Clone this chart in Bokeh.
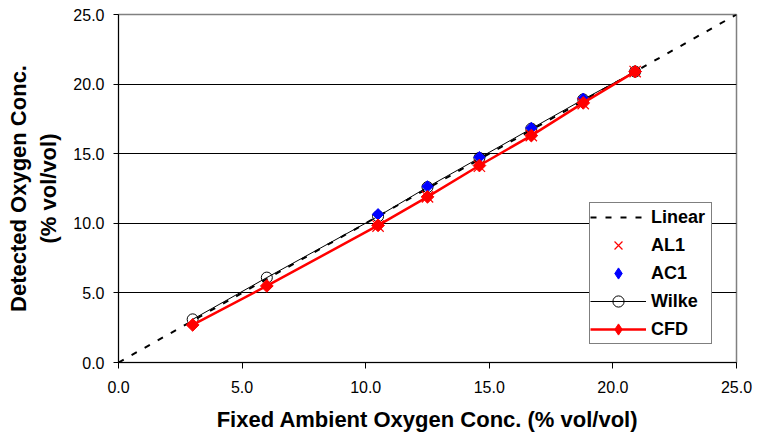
import math
from bokeh.plotting import figure
from bokeh.models import Range1d, FixedTicker, NumeralTickFormatter, Legend, LegendItem
from bokeh.embed import file_html
from bokeh.resources import INLINE

# Data
linear_x = [0.0, 25.0]
linear_y = [0.0, 25.0]

x_all = [3.0, 6.0, 10.5, 12.5, 14.6, 16.7, 18.8, 20.9]
wilke_y = [3.1, 6.1, 10.5, 12.6, 14.7, 16.8, 18.9, 20.9]
cfd_y = [2.7, 5.5, 9.85, 11.9, 14.15, 16.3, 18.65, 20.9]

x_exp = [10.5, 12.5, 14.6, 16.7, 18.8, 20.9]
al1_y = [9.8, 11.9, 14.1, 16.3, 18.6, 20.9]
ac1_y = [10.65, 12.65, 14.75, 16.85, 18.95, 20.9]

ticks = [0, 5, 10, 15, 20, 25]

FONT = "Liberation Sans"

p = figure(width=755, height=440, output_backend="svg", toolbar_location=None,
           x_range=Range1d(0, 25), y_range=Range1d(0, 25),
           min_border_left=118, min_border_right=19, min_border_top=14, min_border_bottom=78)

p.background_fill_color = "white"
p.border_fill_color = "white"
p.outline_line_color = "#808080"
p.outline_line_width = 1.5

# Axes
for ax in (p.xaxis[0], p.yaxis[0]):
    ax.ticker = FixedTicker(ticks=ticks)
    ax.formatter = NumeralTickFormatter(format="0.0")
    ax.axis_line_color = "black"
    ax.axis_line_width = 1
    ax.major_tick_line_color = "black"
    ax.major_tick_in = 0
    ax.minor_tick_line_color = None
    ax.major_label_text_font = FONT
    ax.major_label_text_font_size = "16px"
    ax.major_label_text_color = "black"
    ax.axis_label_text_font = FONT
    ax.axis_label_text_font_style = "bold"
    ax.axis_label_text_font_size = "22px"
    ax.axis_label_text_color = "black"

p.xaxis.axis_label = "Fixed Ambient Oxygen Conc. (% vol/vol)"
p.yaxis.axis_label = "Detected Oxygen Conc.\n(% vol/vol)"
p.xaxis.major_tick_out = 6
p.yaxis.major_tick_out = 5
p.xaxis.major_label_standoff = 12
p.xaxis.axis_label_standoff = 11
p.yaxis.major_label_standoff = 9
p.yaxis.axis_label_standoff = 9

p.xgrid.grid_line_color = None
p.ygrid.ticker = FixedTicker(ticks=ticks[1:-1])
p.ygrid.grid_line_color = "black"
p.ygrid.grid_line_width = 1

# Series
r_lin = p.line(linear_x, linear_y, line_color="black", line_dash="6 9", line_width=2)
r_wl = p.line(x_all, wilke_y, line_color="black", line_width=1)
r_wm = p.scatter(x_all, wilke_y, marker="circle", size=11, fill_color="white",
                 fill_alpha=0, line_color="black", line_width=1)
# small diamond underneath (used as legend symbol), covered by the rotated square
l_ac = p.scatter(x_exp, ac1_y, marker="diamond", size=7, fill_color="blue", line_color="blue")
r_ac = p.scatter(x_exp, ac1_y, marker="square", size=8, angle=math.pi / 4,
                 fill_color="blue", line_color="blue")
r_al = p.scatter(x_exp, al1_y, marker="x", size=16, fill_color="#FF0000",
                 line_color="#FF0000", line_width=1.2)
r_cl = p.line(x_all, cfd_y, line_color="red", line_width=2.5)
l_cm = p.scatter(x_all, cfd_y, marker="diamond", size=8, fill_color="red", line_color="red")
r_cm = p.scatter(x_all, cfd_y, marker="square", size=9, angle=math.pi / 4,
                 fill_color="red", line_color="red")

legend = Legend(items=[
    LegendItem(label="Linear", renderers=[r_lin]),
    LegendItem(label="AL1", renderers=[r_al]),
    LegendItem(label="AC1", renderers=[l_ac]),
    LegendItem(label="Wilke", renderers=[r_wl, r_wm]),
    LegendItem(label="CFD", renderers=[r_cl, l_cm]),
], location=(471, 18))
legend.label_text_font = FONT
legend.label_text_font_style = "bold"
legend.label_text_font_size = "18px"
legend.label_text_color = "black"
legend.glyph_width = 56
legend.glyph_height = 28
legend.label_height = 28
legend.label_width = 60
legend.label_standoff = 5
legend.spacing = 0
legend.padding = 0
legend.margin = 0
legend.border_line_color = "black"
legend.border_line_width = 1
legend.background_fill_color = "white"
legend.background_fill_alpha = 1
p.add_layout(legend, "center")

open("out.html", "w").write(file_html(p, INLINE))
